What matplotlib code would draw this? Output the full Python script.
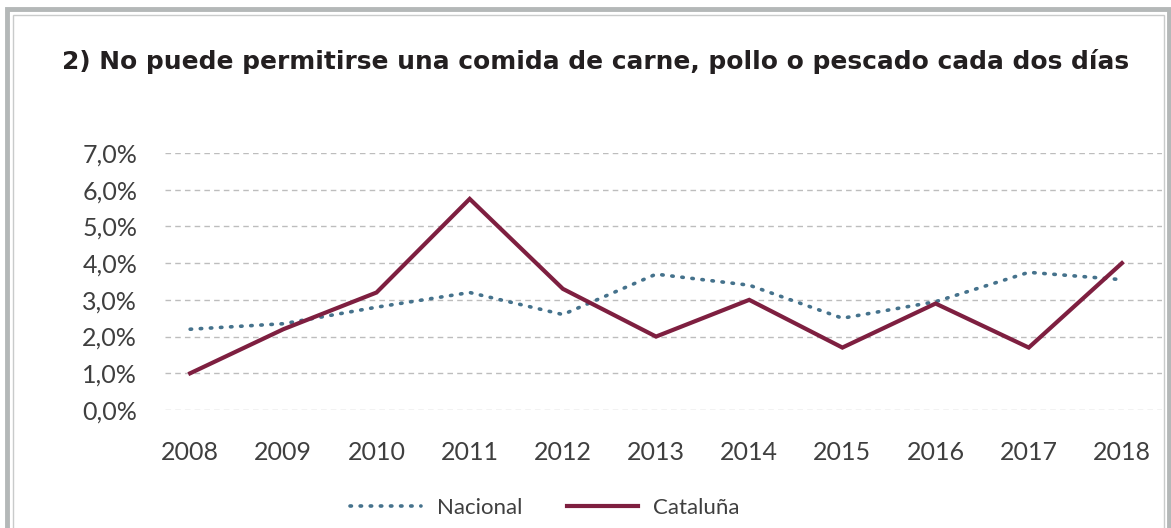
import matplotlib
matplotlib.use("Agg")
import matplotlib.pyplot as plt
from matplotlib.patches import Rectangle
from matplotlib.ticker import FuncFormatter

years = ["2008", "2009", "2010", "2011", "2012", "2013", "2014", "2015", "2016", "2017", "2018"]
nacional = [2.2, 2.35, 2.8, 3.2, 2.6, 3.7, 3.4, 2.5, 2.95, 3.75, 3.55]
cataluna = [1.0, 2.2, 3.2, 5.75, 3.3, 2.0, 3.0, 1.7, 2.9, 1.7, 4.0]
y_ticks = [0, 1, 2, 3, 4, 5, 6, 7]

title = "2) No puede permitirse una comida de carne, pollo o pescado cada dos días"

plt.rcParams["font.family"] = ["Lato", "DejaVu Sans"]

fig = plt.figure(figsize=(11.71, 5.28), dpi=100)
W, H = 1171, 528

# double gray frame
fig.patches.append(Rectangle((7 / W, -0.1), 1162 / W, (H - 9) / H + 0.1, transform=fig.transFigure,
                             fill=False, edgecolor="#b4b8b8", linewidth=3.5))
fig.patches.append(Rectangle((12.5 / W, -0.1), 1151 / W, (H - 15) / H + 0.1, transform=fig.transFigure,
                             fill=False, edgecolor="#c9cbcb", linewidth=1.0))

fig.text(62 / W, 1 - 62 / H, title, fontsize=17.9, fontweight="bold", color="#231f20",
         ha="left", va="center", family=["DejaVu Sans"])

ax = fig.add_axes([165 / W, 1 - 410 / H, (1162 - 165) / W, (410 - 153) / H])
x = list(range(len(years)))
ax.plot(x, nacional, color="#45728c", linewidth=2.6, linestyle=(0, (0.4, 2.4)),
        dash_capstyle="round", solid_capstyle="round", label="Nacional", zorder=3)
ax.plot(x, cataluna, color="#7e1f40", linewidth=3.0, solid_joinstyle="miter",
        label="Cataluña", zorder=4)

ax.set_xlim(-0.27, 10.43)
ax.set_ylim(0, 7)
ax.set_yticks(y_ticks)
ax.yaxis.set_major_formatter(FuncFormatter(lambda v, p: f"{v:.1f}%".replace(".", ",")))
ax.set_xticks(x)
ax.set_xticklabels(years)
ax.grid(axis="y", color="#bdbdbd", linestyle=(0, (4, 3)), linewidth=1.0)
ax.set_axisbelow(True)
for s in ax.spines.values():
    s.set_visible(False)
ax.tick_params(length=0, labelsize=18, labelcolor="#3f3f3f")
ax.tick_params(axis="y", pad=20)
ax.tick_params(axis="x", pad=22)

leg = ax.legend(loc="center", bbox_to_anchor=(545 / W, 1 - 508 / H), bbox_transform=fig.transFigure,
                ncol=2, frameon=False, fontsize=16, handlelength=3.2, columnspacing=2.0,
                handletextpad=0.7)
for t in leg.get_texts():
    t.set_color("#3f3f3f")

fig.savefig("out.png", dpi=100)
